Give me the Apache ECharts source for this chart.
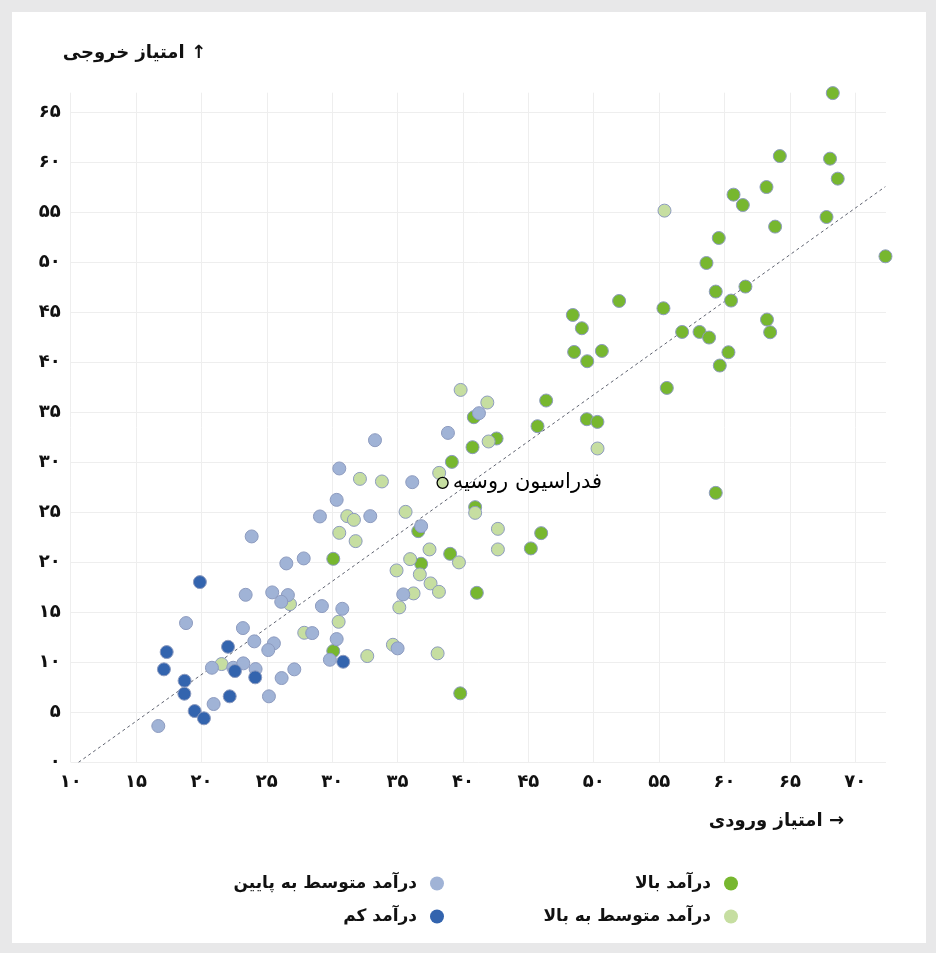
<!DOCTYPE html>
<html>
<head>
<meta charset="utf-8">
<script src="https://cdn.jsdelivr.net/npm/echarts@6/dist/echarts.min.js"></script>
<style>
	html, body { margin: 0; padding: 0; background: #e8e8e9; }
	#main { position: absolute; left: 12px; top: 12px; width: 914px; height: 931px; background: #ffffff; }
</style>
</head>
<body>
<div id="main"></div>
<script>
// دسته‌ها
var groupNames = ['درآمد بالا', 'درآمد متوسط به بالا', 'درآمد متوسط به پایین', 'درآمد کم'];
var groupColors = ['#77b72f', '#c6dea1', '#a0b3d6', '#3364ae'];
var highlightName = 'فدراسیون روسیه';
var highlightPoint = [[38.44, 27.96]];

// [امتیاز ورودی, امتیاز خروجی]
var highIncome = [
	[68.28, 66.96], [64.23, 60.66], [68.07, 60.4], [68.66, 58.4], [60.69, 56.8],
	[63.21, 57.56], [61.40, 55.76], [67.80, 54.56], [63.87, 53.6], [59.56, 52.46],
	[58.62, 49.96], [72.31, 50.63], [59.33, 47.1], [61.60, 47.6], [60.50, 46.2],
	[51.94, 46.16], [55.33, 45.43], [48.40, 44.76], [49.09, 43.43], [56.76, 43.06],
	[58.09, 43.06], [58.82, 42.5], [63.25, 44.3], [63.49, 43.03], [48.50, 41.06],
	[50.62, 41.16], [49.50, 40.13], [60.30, 41.03], [59.64, 39.7], [55.59, 37.46],
	[46.36, 36.2], [45.70, 33.63], [49.47, 34.33], [50.28, 34.06], [40.83, 34.53],
	[40.73, 31.53], [42.57, 32.4], [39.15, 30.06], [40.93, 25.53], [36.58, 23.13],
	[45.98, 22.93], [45.19, 21.4], [39.02, 20.86], [36.80, 19.86], [41.06, 16.96],
	[30.08, 20.36], [30.08, 11.13], [39.79, 6.9], [59.33, 26.96]
];
var upperMiddle = [
	[55.41, 55.2], [39.82, 37.26], [41.86, 36.0], [50.29, 31.4], [41.96, 32.1],
	[38.18, 28.96], [40.93, 24.96], [35.61, 25.06], [42.67, 23.36], [42.67, 21.3],
	[37.44, 21.3], [39.69, 20.0], [35.96, 20.33], [36.70, 18.8], [37.52, 17.9],
	[38.16, 17.06], [36.22, 16.9], [34.92, 19.2], [35.13, 15.5], [32.12, 28.36],
	[33.80, 28.1], [31.15, 24.63], [31.66, 24.26], [30.54, 22.96], [31.79, 22.13],
	[26.77, 15.83], [30.49, 14.06], [27.86, 12.96], [32.68, 10.63], [34.64, 11.76],
	[38.06, 10.9], [21.54, 9.83]
];
var lowerMiddle = [
	[41.22, 34.93], [38.85, 32.96], [36.12, 28.03], [36.80, 23.63], [35.43, 16.8],
	[33.27, 32.23], [30.54, 29.4], [30.34, 26.26], [29.06, 24.6], [32.91, 24.63],
	[23.84, 22.6], [26.49, 19.9], [27.82, 20.4], [23.38, 16.76], [25.41, 17.0],
	[26.61, 16.73], [26.10, 16.06], [29.21, 15.63], [30.77, 15.36], [18.82, 13.93],
	[23.17, 13.43], [24.04, 12.1], [25.54, 11.9], [25.11, 11.23], [28.47, 12.93],
	[30.34, 12.33], [29.82, 10.26], [35.0, 11.4], [20.93, 5.83], [20.80, 9.46],
	[22.43, 9.46], [23.20, 9.9], [24.14, 9.33], [26.13, 8.43], [27.10, 9.3],
	[25.16, 6.6], [16.70, 3.63]
];
var lowIncome = [
	[19.88, 18.03], [17.34, 11.03], [17.13, 9.3], [18.71, 8.16], [18.69, 6.86],
	[19.48, 5.13], [20.19, 4.4], [22.16, 6.6], [22.03, 11.56], [22.56, 9.13],
	[24.11, 8.5], [30.84, 10.06]
];
// خط روند
var trendLine = [[10.6, 0], [72.3, 57.6]];

// برچسب محورها با ارقام فارسی
var faDigits = ['۰', '۱', '۲', '۳', '۴', '۵', '۶', '۷', '۸', '۹'];
var xTitle = 'امتیاز ورودی →';
var yTitle = 'امتیاز خروجی ↑';

function toFa(v){
	return String(v).replace(/[0-9]/g, function(d){ return faDigits[+d]; });
}

var fontFa = '"DejaVu Sans", sans-serif';
var chart = echarts.init(document.getElementById('main'));

var groupData = [highIncome, upperMiddle, lowerMiddle, lowIncome];
var series = [];
series.push({
	type: 'line',
	data: trendLine,
	symbol: 'none',
	silent: true,
	z: 1,
	lineStyle: { color: '#5f6370', width: 1, type: [3, 3] }
});
for (var g = 0; g < groupData.length; g++){
	series.push({
		name: groupNames[g],
		type: 'scatter',
		data: groupData[g],
		symbolSize: 13,
		z: 2 + g,
		itemStyle: { color: groupColors[g], opacity: 1, borderColor: '#8d9bbf', borderWidth: 1 }
	});
}
series.push({
	name: highlightName,
	type: 'scatter',
	data: highlightPoint,
	symbolSize: 11,
	z: 10,
	itemStyle: { color: groupColors[1], opacity: 1, borderColor: '#000000', borderWidth: 1.3 },
	label: {
		show: true,
		position: 'right',
		distance: 4,
		formatter: highlightName,
		color: '#000000',
		fontFamily: fontFa,
		fontSize: 21
	}
});

// legend: one per item, right aligned like the RTL layout
var legendPos = [
	{ right: 183, top: 858 },
	{ right: 183, top: 891 },
	{ right: 477, top: 858 },
	{ right: 477, top: 891 }
];
var legends = [];
for (var l = 0; l < groupNames.length; l++){
	legends.push({
		data: [groupNames[l]],
		right: legendPos[l].right,
		top: legendPos[l].top,
		align: 'right',
		icon: 'circle',
		itemWidth: 14,
		itemHeight: 14,
		selectedMode: false,
		itemStyle: { borderWidth: 0, opacity: 1 },
		textStyle: { fontFamily: fontFa, fontWeight: 'bold', fontSize: 17, color: '#111111', padding: [0, 8, 0, 0] }
	});
}

var option = {
	animation: false,
	grid: { left: 58.7, right: 40, top: 80.7, bottom: 180.7 },
	legend: legends,
	xAxis: {
		type: 'value',
		min: 10,
		max: 72.35,
		interval: 5,
		name: xTitle,
		nameLocation: 'end',
		nameGap: 0,
		nameTextStyle: {
			fontFamily: fontFa, fontWeight: 'bold', fontSize: 18, color: '#111111',
			align: 'right', verticalAlign: 'top', padding: [50, 42, 0, 0]
		},
		axisLine: { show: false },
		axisTick: { show: false },
		axisLabel: {
			formatter: toFa, margin: 11, showMaxLabel: false,
			fontFamily: fontFa, fontWeight: 'bold', fontSize: 18, color: '#111111'
		},
		splitLine: { show: true, showMaxLine: false, lineStyle: { color: '#eeeeee', width: 1 } }
	},
	yAxis: {
		type: 'value',
		min: 0,
		max: 67,
		interval: 5,
		name: yTitle,
		nameLocation: 'end',
		nameGap: 30,
		nameTextStyle: {
			fontFamily: fontFa, fontWeight: 'bold', fontSize: 18, color: '#111111',
			align: 'left', verticalAlign: 'bottom', padding: [0, 0, 0, -8]
		},
		axisLine: { show: false },
		axisTick: { show: false },
		axisLabel: {
			formatter: toFa, margin: 10, showMaxLabel: false,
			fontFamily: fontFa, fontWeight: 'bold', fontSize: 18, color: '#111111'
		},
		splitLine: { show: true, showMaxLine: false, lineStyle: { color: '#eeeeee', width: 1 } }
	},
	series: series
};
chart.setOption(option);
</script>
</body>
</html>
